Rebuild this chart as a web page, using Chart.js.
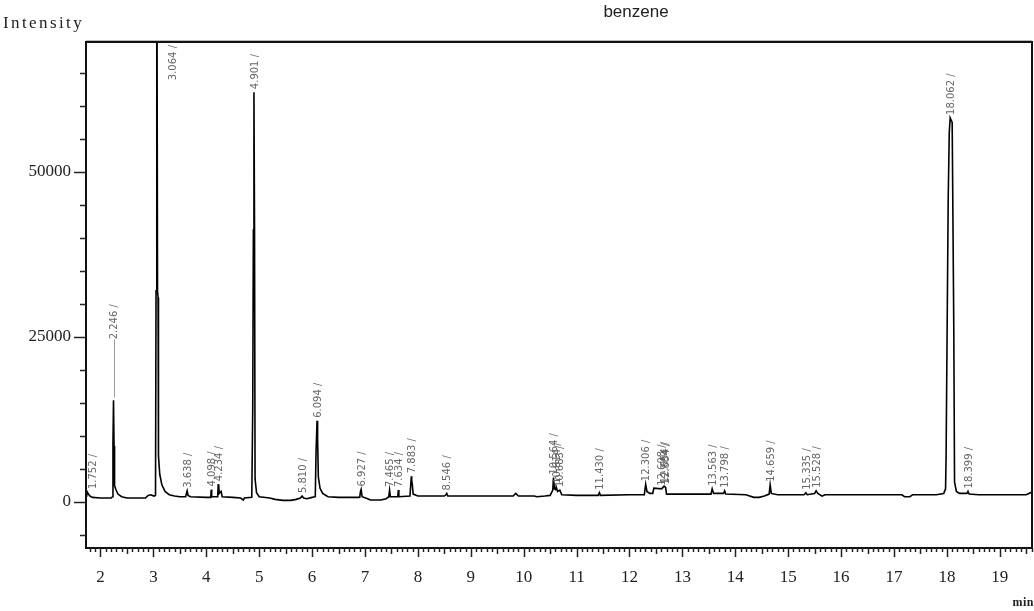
<!DOCTYPE html>
<html>
<head>
<meta charset="utf-8">
<script src="https://cdn.jsdelivr.net/npm/chart.js@4.4.1/dist/chart.umd.min.js"></script>
<style>
html,body{margin:0;padding:0;background:#fff;}
canvas{display:block;}
</style>
</head>
<body>
<canvas id="c" width="1034" height="611"></canvas>
<script>
// ---- data (retention time in min, intensity) ----
const times = [
 1.726,1.740,1.752,1.770,1.800,1.850,2.000,2.200,2.228,2.236,2.246,2.256,2.266,2.290,2.330,2.400,2.500,2.850,2.900,2.950,
 3.010,3.040,3.050,3.064,3.078,3.088,3.096,3.120,3.160,3.220,3.300,3.400,3.500,3.610,3.625,3.638,3.655,3.700,
 4.000,4.085,4.092,4.098,4.106,4.215,4.225,4.234,4.244,4.280,4.300,4.500,4.650,4.700,4.720,
 4.860,4.878,4.890,4.901,4.912,4.922,4.950,5.000,5.200,5.300,5.450,5.600,5.700,5.780,5.810,5.840,5.900,
 6.000,6.060,6.075,6.094,6.104,6.118,6.150,6.200,6.300,6.500,6.900,6.915,6.927,6.945,
 7.050,7.100,7.200,7.300,7.400,7.450,7.465,7.480,7.620,7.630,7.640,7.850,7.868,7.876,7.883,7.895,7.910,
 8.000,8.500,8.530,8.546,8.565,9.000,9.800,9.850,9.900,10.200,10.250,10.400,10.500,10.550,10.564,10.580,
 10.600,10.614,10.640,10.683,10.720,11.000,11.410,11.430,11.450,12.000,12.280,12.306,12.330,12.380,12.440,
 12.460,12.608,12.654,12.684,12.700,13.000,13.540,13.563,13.590,13.780,13.798,13.820,14.200,14.350,14.450,
 14.550,14.640,14.659,14.680,14.800,15.300,15.335,15.360,15.500,15.528,15.560,15.640,15.700,17.150,17.200,
 17.300,17.350,17.800,17.940,17.975,17.985,18.025,18.045,18.062,18.100,18.130,18.145,18.180,18.240,18.380,
 18.399,18.420,18.600,19.500,19.609
];
const intensity = [
 900,1300,1500,1200,900,700,600,600,800,9000,15400,8500,2500,1900,1200,800,600,600,1000,1100,
 900,1000,32000,95000,32000,31000,7000,4200,2600,1600,1100,900,800,800,1300,1700,1000,800,
 700,700,1800,1900,800,800,2600,2700,1300,1600,800,700,600,300,600,
 700,14400,41200,62100,41000,3500,1400,800,600,400,250,250,400,600,900,600,500,
 700,800,7600,12300,9700,3800,2100,1300,800,700,700,1600,1900,800,
 500,300,300,300,500,800,1800,800,800,1800,800,900,3000,3900,3300,2600,1200,
 900,900,1100,1300,900,900,900,1300,900,900,800,900,1000,1800,3700,2000,
 1900,2300,1600,1800,1100,1000,1000,1400,1000,1100,1100,2700,1600,1300,1300,
 2100,2000,2400,2200,1200,1200,1200,2000,1300,1300,1700,1200,1100,700,700,
 900,1200,2600,1300,1100,1100,1400,1100,1300,1700,1300,900,1100,1100,800,
 800,1100,1100,1300,2000,6900,46000,56000,58200,57500,27000,3000,1600,1300,1300,
 1600,1200,1100,1100,1500
];
// peak annotations
const peakLabels = ["1.752","2.246","3.064","3.638","4.098","4.234","4.901","5.810","6.094","6.927",
 "7.465","7.634","7.883","8.546","10.564","10.614","10.683","11.430","12.306","12.608","12.654","12.684",
 "13.563","13.798","14.659","15.335","15.528","18.062","18.399"];
const peakTimes = [1.752,2.246,3.064,3.638,4.098,4.234,4.901,5.810,6.094,6.927,
 7.465,7.634,7.883,8.546,10.564,10.614,10.683,11.430,12.306,12.608,12.654,12.684,
 13.563,13.798,14.659,15.335,15.528,18.062,18.399];
const peakHeights = [1500,15400,95000,1700,1900,2700,62100,900,12300,1900,
 1800,1800,3900,1300,3700,2300,1800,1400,2700,2000,2400,2200,
 2000,1700,2600,1400,1700,58200,1600];
// axes
const xTicks = [2,3,4,5,6,7,8,9,10,11,12,13,14,15,16,17,18,19];
const yTicks = [0,25000,50000];
const X_MIN = 1.726, X_MAX = 19.609;
const Y_MIN = -6970, Y_MAX = 69700;
const xTitle = "min", yTitle = "Intensity", topText = "benzene";

// label lifts (px) with leader lines, by peak label
const labelLift = {"2.246": 58};

const points = times.map((t,i)=>({x:t,y:intensity[i]}));

const decor = {
  id:'decor',
  afterDraw(chart){
    const ctx = chart.ctx, a = chart.chartArea;
    const xs = chart.scales.x, ys = chart.scales.y;
    ctx.save();
    // frame
    ctx.strokeStyle = '#bbb'; ctx.lineWidth = 1;
    ctx.beginPath(); ctx.moveTo(a.left, a.top-1.5); ctx.lineTo(a.right, a.top-1.5); ctx.stroke();
    ctx.strokeStyle = '#111'; ctx.lineWidth = 2;
    ctx.strokeRect(a.left, a.top, a.right-a.left, a.bottom-a.top);
    // y ticks
    ctx.lineWidth = 1.5; ctx.strokeStyle = '#222';
    for(let v=-5000; v<=Y_MAX; v+=5000){
      const y = Math.round(ys.getPixelForValue(v))+0.5;
      const len = yTicks.includes(v) ? 12 : 6;
      ctx.beginPath(); ctx.moveTo(a.left-len, y); ctx.lineTo(a.left, y); ctx.stroke();
    }
    // x ticks
    for(let k=Math.ceil(X_MIN*10); k<=Math.floor(X_MAX*10); k++){
      const x = Math.round(xs.getPixelForValue(k/10))+0.5;
      const len = (k%10===0) ? 9 : (k%5===0 ? 6 : 4);
      ctx.beginPath(); ctx.moveTo(x, a.bottom); ctx.lineTo(x, a.bottom+len); ctx.stroke();
    }
    // titles
    ctx.fillStyle = '#222';
    ctx.font = '17px "Liberation Serif"';
    ctx.letterSpacing = '2.4px';
    ctx.textAlign = 'left'; ctx.textBaseline = 'alphabetic';
    ctx.fillText(yTitle, 3, 28);
    ctx.letterSpacing = '0.5px';
    ctx.font = 'bold 12px "Liberation Serif"';
    ctx.textAlign = 'right';
    ctx.fillText(xTitle, 1034, 606);
    ctx.letterSpacing = '0px';
    ctx.font = '17px "Liberation Sans"';
    ctx.textAlign = 'center';
    ctx.fillText(topText, 636, 17);
    // peak labels
    ctx.font = '10px "DejaVu Sans"';
    ctx.fillStyle = '#666';
    ctx.textBaseline = 'middle'; ctx.textAlign = 'left';
    peakLabels.forEach((lab,i)=>{
      const txt = lab + ' /';
      const w = ctx.measureText(txt).width;
      let x = Math.max(xs.getPixelForValue(peakTimes[i]), a.left + 6);
      let yb = ys.getPixelForValue(peakHeights[i]) - 3;
      if (yb - w < a.top + 3){ yb = a.top + 3 + w; x += 16; }
      const lift = labelLift[lab] || 0;
      if (lift){
        ctx.strokeStyle = '#999'; ctx.lineWidth = 1;
        ctx.beginPath(); ctx.moveTo(Math.round(x)+0.5, yb); ctx.lineTo(Math.round(x)+0.5, yb-lift); ctx.stroke();
        yb -= lift;
      }
      ctx.save();
      ctx.translate(x+1, yb);
      ctx.rotate(-Math.PI/2);
      ctx.fillText(txt, 0, 0);
      ctx.restore();
    });
    ctx.restore();
  }
};

new Chart(document.getElementById('c'), {
  type:'line',
  data:{datasets:[{data:points, borderColor:'#000', borderWidth:1.6, pointRadius:0, tension:0, fill:false}]},
  options:{
    responsive:false, animation:false, devicePixelRatio:1,
    layout:{padding:{left:0, top:42, right:2, bottom:0}},
    plugins:{legend:{display:false}, tooltip:{enabled:false}},
    scales:{
      x:{type:'linear', min:X_MIN, max:X_MAX,
         afterBuildTicks:s=>{ s.ticks = xTicks.map(v=>({value:v})); },
         afterFit:s=>{ s.height = 63; },
         grid:{display:false, drawTicks:false}, border:{display:false},
         ticks:{autoSkip:false, maxRotation:0, padding:19, color:'#222',
                font:{family:'Liberation Serif', size:17}, callback:v=>String(v)}},
      y:{type:'linear', min:Y_MIN, max:Y_MAX,
         afterBuildTicks:s=>{ s.ticks = yTicks.map(v=>({value:v})); },
         afterFit:s=>{ s.width = 86; },
         grid:{display:false, drawTicks:false}, border:{display:false},
         ticks:{padding:15, color:'#222', font:{family:'Liberation Serif', size:17},
                callback:v=>String(v)}}
    }
  },
  plugins:[decor]
});
</script>
</body>
</html>
